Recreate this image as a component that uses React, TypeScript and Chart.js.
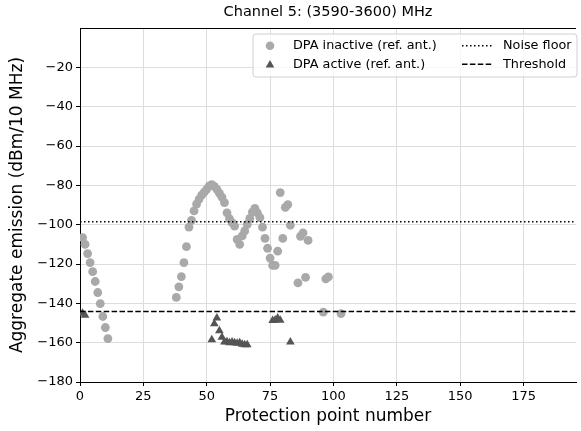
import React, { useEffect, useRef } from 'react';
import { Chart, registerables } from 'chart.js';

Chart.register(...registerables);

// ---- data ----
const TITLE = 'Channel 5: (3590-3600) MHz';
const X_LABEL = 'Protection point number';
const Y_LABEL = 'Aggregate emission (dBm/10 MHz)';

const INACTIVE_X = [
  1, 2, 3, 4, 5, 6, 7, 8, 9, 10, 11,
  38, 39, 40, 41, 42, 43, 44, 45, 46, 47, 48, 49, 50, 51, 52, 53, 54, 55, 56, 57,
  58, 59, 60, 61, 62, 63, 64, 65, 66, 67, 68, 69, 70, 71, 72, 73, 74, 75, 76, 77,
  78, 79, 80, 81, 82, 83, 86, 87, 88, 89, 90, 96, 97, 98, 103,
];
const INACTIVE_Y = [
  -106.6, -110, -114.7, -119.3, -123.9, -128.9, -134.5, -140.1, -146.7, -152.3, -157.9,
  -137, -131.6, -126.4, -119.3, -111.2, -101.2, -97.8, -93, -89.5, -87, -85, -83.5, -82, -80.3, -79.6, -80.5, -82, -84, -86, -88.8,
  -94, -97, -99, -100.7, -107.5, -110, -105.7, -103.2, -99.8, -96.8, -93.6, -91.7, -94, -96.4, -101.3, -107, -112, -117, -120.7, -120.7,
  -113.5, -83.7, -107, -91.2, -89.8, -100.3, -129.6, -105.9, -104.2, -126.8, -108, -144.5, -127.6, -126.5, -145.2,
];

const ACTIVE_X = [1, 2, 52, 53, 54, 55, 56, 57, 58, 59, 60, 61, 62, 63, 64, 65, 66, 76, 77, 78, 79, 83];
const ACTIVE_Y = [
  -145, -146, -158.5, -150.4, -147.4, -154, -157.2, -159.7, -159.5, -160, -159.6, -160, -160.3, -160, -160.8, -161, -161,
  -148.7, -148.5, -147.4, -148.6, -159.6,
];

const NOISE_FLOOR = -98.5;
const THRESHOLD = -144.2;

const X_MIN = 0;
const X_MAX = 195.7;
const Y_MIN = -180;
const Y_MAX = 0;
const X_TICKS = [0, 25, 50, 75, 100, 125, 150, 175];
const Y_TICKS = [-180, -160, -140, -120, -100, -80, -60, -40, -20];

const LEGEND_LABELS = ['DPA inactive (ref. ant.)', 'DPA active (ref. ant.)', 'Noise floor', 'Threshold'];

const INACTIVE_COLOR = '#a9a9a9';
const ACTIVE_COLOR = '#555555';
const FONT = 'DejaVu Sans';

const fmt = (v: number) => String(v).replace('-', '\u2212');

const framePlugin = {
  id: 'frameAndLegend',
  afterDraw(chart: any) {
    const { ctx, chartArea } = chart;
    ctx.save();
    // top spine
    ctx.strokeStyle = '#000';
    ctx.lineWidth = 1;
    ctx.beginPath();
    ctx.moveTo(chartArea.left, chartArea.top + 0.5);
    ctx.lineTo(chartArea.right, chartArea.top + 0.5);
    ctx.stroke();

    // legend box
    const bx = 253, by = 34, bw = 324, bh = 43, r = 3;
    ctx.beginPath();
    ctx.moveTo(bx + r, by);
    ctx.lineTo(bx + bw - r, by);
    ctx.quadraticCurveTo(bx + bw, by, bx + bw, by + r);
    ctx.lineTo(bx + bw, by + bh - r);
    ctx.quadraticCurveTo(bx + bw, by + bh, bx + bw - r, by + bh);
    ctx.lineTo(bx + r, by + bh);
    ctx.quadraticCurveTo(bx, by + bh, bx, by + bh - r);
    ctx.lineTo(bx, by + r);
    ctx.quadraticCurveTo(bx, by, bx + r, by);
    ctx.closePath();
    ctx.fillStyle = 'rgba(255,255,255,0.8)';
    ctx.fill();
    ctx.strokeStyle = '#d0d0d0';
    ctx.lineWidth = 1;
    ctx.stroke();

    const row1 = 45.7, row2 = 64.3;
    // circle
    ctx.fillStyle = INACTIVE_COLOR;
    ctx.beginPath();
    ctx.arc(270, row1, 4.3, 0, Math.PI * 2);
    ctx.fill();
    // triangle
    ctx.fillStyle = ACTIVE_COLOR;
    const tr = 5;
    ctx.beginPath();
    for (let i = 0; i < 3; i++) {
      const a = (i * 2 * Math.PI) / 3;
      const px = 270 + Math.sin(a) * tr;
      const py = row2 + 0.8 - Math.cos(a) * tr;
      if (i === 0) ctx.moveTo(px, py); else ctx.lineTo(px, py);
    }
    ctx.closePath();
    ctx.fill();
    // dotted line
    ctx.strokeStyle = '#000';
    ctx.lineWidth = 1.5;
    ctx.setLineDash([1.5, 2.5]);
    ctx.beginPath();
    ctx.moveTo(462, row1);
    ctx.lineTo(492, row1);
    ctx.stroke();
    ctx.setLineDash([5.5, 2.4]);
    ctx.beginPath();
    ctx.moveTo(462, row2);
    ctx.lineTo(492, row2);
    ctx.stroke();
    ctx.setLineDash([]);

    ctx.fillStyle = '#000';
    ctx.font = `12.8px "${FONT}"`;
    ctx.textBaseline = 'middle';
    ctx.textAlign = 'left';
    ctx.fillText(LEGEND_LABELS[0], 293, row1);
    ctx.fillText(LEGEND_LABELS[1], 293, row2);
    ctx.fillText(LEGEND_LABELS[2], 503, row1);
    ctx.fillText(LEGEND_LABELS[3], 503, row2);
    ctx.restore();
  },
};

export default function App() {
  const ref = useRef<HTMLCanvasElement>(null);

  useEffect(() => {
    if (!ref.current) return;
    Chart.defaults.font.family = FONT;
    Chart.defaults.color = '#000';
    const chart = new Chart(ref.current, {
      type: 'scatter',
      data: {
        datasets: [
          {
            type: 'line',
            label: LEGEND_LABELS[2],
            data: [{ x: X_MIN, y: NOISE_FLOOR }, { x: X_MAX, y: NOISE_FLOOR }],
            borderColor: '#000',
            borderWidth: 1.5,
            borderDash: [1.5, 2.5],
            pointRadius: 0,
            fill: false,
          } as any,
          {
            type: 'line',
            label: LEGEND_LABELS[3],
            data: [{ x: X_MIN, y: THRESHOLD }, { x: X_MAX, y: THRESHOLD }],
            borderColor: '#000',
            borderWidth: 1.5,
            borderDash: [5.5, 2.4],
            pointRadius: 0,
            fill: false,
          } as any,
          {
            label: LEGEND_LABELS[1],
            data: ACTIVE_X.map((x, i) => ({ x, y: ACTIVE_Y[i] })),
            pointStyle: 'triangle',
            pointRadius: 5,
            backgroundColor: ACTIVE_COLOR,
            borderColor: ACTIVE_COLOR,
            borderWidth: 0,
          },
          {
            label: LEGEND_LABELS[0],
            data: INACTIVE_X.map((x, i) => ({ x, y: INACTIVE_Y[i] })),
            pointStyle: 'circle',
            pointRadius: 4.4,
            backgroundColor: INACTIVE_COLOR,
            borderColor: INACTIVE_COLOR,
            borderWidth: 0,
          },
        ],
      },
      options: {
        responsive: false,
        animation: false,
        devicePixelRatio: 1,
        layout: { padding: { left: 0, right: 0, top: 0, bottom: 0 } },
        plugins: {
          legend: { display: false },
          tooltip: { enabled: false },
          title: {
            display: true,
            text: TITLE,
            fullSize: false,
            color: '#000',
            font: { size: 14.5, weight: 'normal', family: FONT, lineHeight: 1.2 },
            padding: { top: 3.6, bottom: 7 },
          },
        },
        scales: {
          x: {
            type: 'linear',
            min: X_MIN,
            max: X_MAX,
            afterBuildTicks: (s: any) => { s.ticks = X_TICKS.map((v) => ({ value: v })); },
            afterFit: (s: any) => { s.height = 49; },
            ticks: { font: { size: 13, family: FONT }, color: '#000', padding: 3, callback: (v: any) => fmt(v), maxRotation: 0 },
            grid: { color: '#dddddd', lineWidth: 1, tickColor: '#000', tickLength: 4, tickWidth: 1 },
            border: { display: true, color: '#000', width: 1 },
            title: {
              display: true,
              text: X_LABEL,
              color: '#000',
              font: { size: 17, family: FONT, lineHeight: 1.2 },
              padding: { top: 0, bottom: 3.8 },
            },
          },
          y: {
            type: 'linear',
            min: Y_MIN,
            max: Y_MAX,
            afterBuildTicks: (s: any) => { s.ticks = Y_TICKS.map((v) => ({ value: v })); },
            afterFit: (s: any) => { s.width = 80; },
            ticks: { font: { size: 13, family: FONT }, color: '#000', padding: 3, callback: (v: any) => fmt(v) },
            grid: { color: '#dddddd', lineWidth: 1, tickColor: '#000', tickLength: 4, tickWidth: 1 },
            border: { display: true, color: '#000', width: 1 },
            title: {
              display: true,
              text: Y_LABEL,
              color: '#000',
              font: { size: 17, family: FONT, lineHeight: 1.2 },
              padding: { top: 7.8, bottom: 0 },
            },
          },
        },
      },
      plugins: [framePlugin],
    } as any);
    return () => chart.destroy();
  }, []);

  return (
    <div style={{ position: 'fixed', left: 0, top: 0, width: 581, height: 431, background: '#fff' }}>
      <canvas ref={ref} width={581} height={431} style={{ display: 'block', width: 581, height: 431 }} />
    </div>
  );
}
